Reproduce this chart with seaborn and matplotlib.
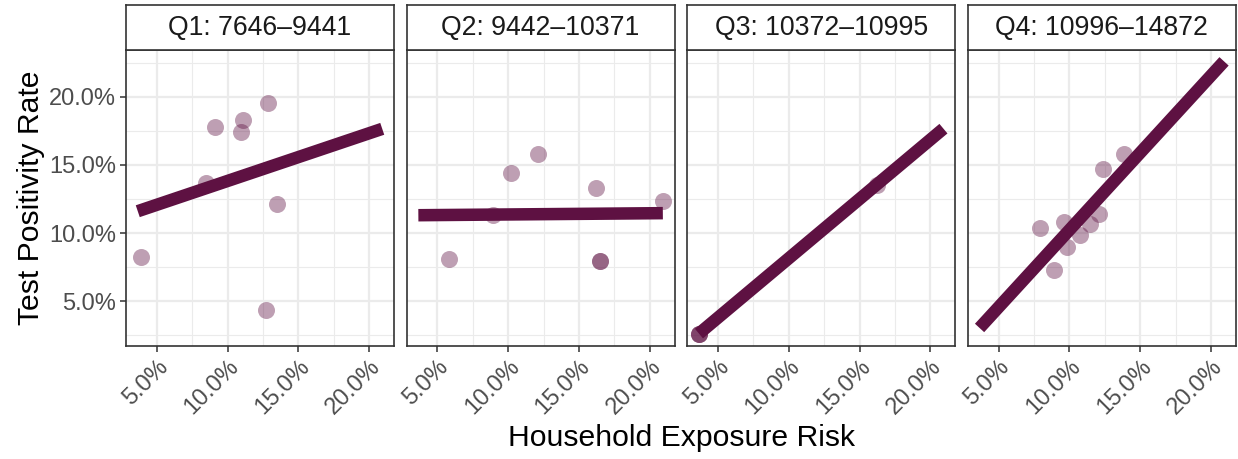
import numpy as np
import pandas as pd
import seaborn as sns
import matplotlib.pyplot as plt
from matplotlib.ticker import FuncFormatter, MultipleLocator

# quartile labels
quartiles = ['Q1: 7646\u20139441', 'Q2: 9442\u201310371', 'Q3: 10372\u201310995', 'Q4: 10996\u201314872']

# household exposure risk (%) and test positivity rate (%) per quartile
q1_x = [3.87, 8.48, 9.14, 11.11, 10.95, 12.83, 13.47, 12.69]
q1_y = [8.25, 13.64, 17.78, 18.29, 17.41, 19.56, 12.17, 4.39]
q2_x = [5.83, 8.95, 10.20, 12.08, 16.21, 16.47, 16.47, 20.92]
q2_y = [8.08, 11.31, 14.42, 15.79, 13.30, 7.96, 7.96, 12.36]
q3_x = [3.66, 3.66, 3.66, 16.20]
q3_y = [2.63, 2.63, 2.63, 13.55]
q4_x = [7.90, 8.95, 9.64, 9.83, 10.75, 11.48, 12.11, 12.37, 13.86]
q4_y = [10.34, 7.28, 10.80, 8.99, 9.85, 10.70, 11.39, 14.69, 15.80]

xs = [q1_x, q2_x, q3_x, q4_x]
ys = [q1_y, q2_y, q3_y, q4_y]
df = pd.concat([pd.DataFrame({'quartile': q, 'exposure': x, 'positivity': y})
                for q, x, y in zip(quartiles, xs, ys)], ignore_index=True)

plum = '#5E1142'
plt.rcParams['font.family'] = ['Liberation Sans', 'DejaVu Sans']

W, H = 1238, 459
fig = plt.figure(figsize=(W / 100, H / 100), dpi=100)

lefts = [126, 406.6, 687.2, 967.8]
pw = 268
top, bottom = 50, 346
strip_top = 5

xmin, xmax = df['exposure'].min(), df['exposure'].max()
pct = FuncFormatter(lambda v, p: f'{v:.1f}%')

for i, q in enumerate(quartiles):
    ax = fig.add_axes([lefts[i] / W, 1 - bottom / H, pw / W, (bottom - top) / H])
    sub = df[df['quartile'] == q]
    # regression line drawn over the full x range shared by all panels
    ax.set_xlim(xmin, xmax)
    sns.regplot(data=sub, x='exposure', y='positivity', ax=ax, ci=None, truncate=False,
                color=plum,
                scatter_kws=dict(s=150, alpha=0.4, linewidths=0, zorder=2),
                line_kws=dict(lw=9, solid_capstyle='butt', zorder=3))
    ax.set_xlim(2.83, 21.75)
    ax.set_ylim(1.72, 23.43)
    ax.xaxis.set_major_locator(MultipleLocator(5))
    ax.xaxis.set_minor_locator(MultipleLocator(2.5))
    ax.yaxis.set_major_locator(MultipleLocator(5))
    ax.yaxis.set_minor_locator(MultipleLocator(2.5))
    ax.xaxis.set_major_formatter(pct)
    ax.yaxis.set_major_formatter(pct)
    ax.set_facecolor('white')
    ax.grid(which='major', color='#EBEBEB', lw=1.6, zorder=0)
    ax.grid(which='minor', color='#EBEBEB', lw=0.8, zorder=0)
    ax.set_axisbelow(True)
    for s in ax.spines.values():
        s.set_color('#333333')
        s.set_linewidth(1.2)
    ax.tick_params(which='major', length=4, width=1.1, color='#333333',
                   labelcolor='#4D4D4D', labelsize=17, pad=3)
    ax.tick_params(which='minor', length=0)
    plt.setp(ax.get_xticklabels(), rotation=45, ha='right', rotation_mode='anchor')
    ax.set_xlabel('')
    ax.set_ylabel('')
    if i > 0:
        ax.tick_params(axis='y', which='both', left=False, labelleft=False)

    # facet strip
    sax = fig.add_axes([lefts[i] / W, 1 - top / H, pw / W, (top - strip_top) / H])
    sax.set_xticks([])
    sax.set_yticks([])
    sax.set_facecolor('white')
    for s in sax.spines.values():
        s.set_color('#333333')
        s.set_linewidth(1.2)
    sax.text(0.5, 0.48, q, ha='center', va='center', fontsize=19.2, color='#1A1A1A',
             transform=sax.transAxes)

fig.text(31 / W, 1 - 198 / H, 'Test Positivity Rate', rotation=90, ha='center', va='center',
         fontsize=21.7)
fig.text(681 / W, 1 - 438 / H, 'Household Exposure Risk', ha='center', va='center',
         fontsize=21.7)

fig.savefig('out.png', dpi=100)
